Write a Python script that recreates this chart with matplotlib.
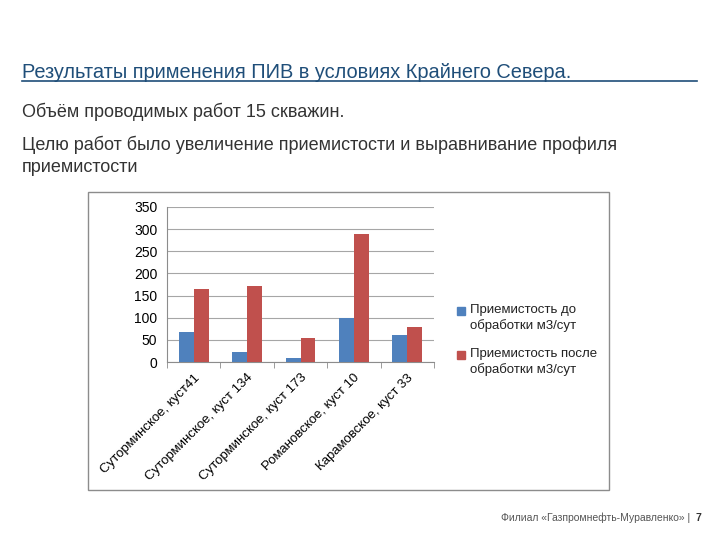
import matplotlib.pyplot as plt
import numpy as np
from matplotlib.patches import Rectangle
from matplotlib.lines import Line2D

categories = [
    "Суторминское, куст41",
    "Суторминское, куст 134",
    "Суторминское, куст 173",
    "Романовское, куст 10",
    "Карамовское, куст 33",
]
before = [68, 23, 8, 100, 60]
after = [165, 172, 54, 290, 80]
series_labels = ["Приемистость до\nобработки м3/сут", "Приемистость после\nобработки м3/сут"]
y_ticks = [0, 50, 100, 150, 200, 250, 300, 350]

BLUE = "#4F81BD"
RED = "#C0504D"
TITLE_COLOR = "#1F4E79"

plt.rcParams["font.family"] = ["Liberation Sans", "DejaVu Sans"]

fig = plt.figure(figsize=(7.2, 5.4), dpi=100)

# header texts
fig.text(22 / 720, 1 - 72 / 540, "Результаты применения ПИВ в условиях Крайнего Севера.",
         fontsize=14.4, color=TITLE_COLOR, va="center", ha="left")
fig.add_artist(Line2D([22 / 720, 697 / 720], [1 - 81 / 540, 1 - 81 / 540],
                      color=TITLE_COLOR, linewidth=1.2))
body = dict(fontsize=13, color="#333333", va="center", ha="left")
fig.text(22 / 720, 1 - 112 / 540, "Объём проводимых работ 15 скважин.", **body)
fig.text(22 / 720, 1 - 145 / 540,
         "Целю работ было увеличение приемистости и выравнивание профиля", **body)
fig.text(22 / 720, 1 - 167 / 540, "приемистости", **body)

# chart frame
fig.add_artist(Rectangle((88 / 720, 1 - 490 / 540), (609 - 88) / 720, 298 / 540,
                         transform=fig.transFigure, fill=False, edgecolor="#8c8c8c",
                         linewidth=1.0))

ax = fig.add_axes([167 / 720, 1 - 362 / 540, (434 - 167) / 720, (362 - 207) / 540])
x = np.arange(len(categories))
w = 0.28
ax.bar(x - w / 2, before, width=w, color=BLUE, zorder=3)
ax.bar(x + w / 2, after, width=w, color=RED, zorder=3)

ax.set_xlim(-0.5, len(categories) - 0.5)
ax.set_ylim(0, 350)
ax.set_yticks(y_ticks)
ax.set_yticklabels([str(v) for v in y_ticks], fontsize=10)
ax.yaxis.grid(True, color="#a6a6a6", linewidth=0.8, zorder=0)
ax.tick_params(axis="y", length=0, pad=7)

ax.set_xticks(x)
ax.set_xticklabels(categories, rotation=45, ha="right", rotation_mode="anchor", fontsize=9.5)
ax.tick_params(axis="x", length=0, pad=7)
ax.set_xticks(np.arange(-0.5, len(categories), 1), minor=True)
ax.tick_params(axis="x", which="minor", length=4, color="#8c8c8c", direction="out")

for s in ["top", "right"]:
    ax.spines[s].set_visible(False)
for s in ["left", "bottom"]:
    ax.spines[s].set_color("#8c8c8c")
    ax.spines[s].set_linewidth(0.8)

# legend (Excel style: marker aligned with first text line)
for i, (lab, col) in enumerate(zip(series_labels, [BLUE, RED])):
    y0 = 1 - (311 + i * 44) / 540
    fig.add_artist(Rectangle((457 / 720, y0 - 3.5 / 540), 8 / 720, 8 / 540,
                             transform=fig.transFigure, color=col))
    fig.text(470 / 720, y0 + 7 / 540, lab, fontsize=9.5, color="#222222",
             ha="left", va="top", linespacing=1.3)

# footer
fig.text(693 / 720, 1 - 518 / 540, "Филиал «Газпромнефть-Муравленко» | ",
         fontsize=7.5, color="#555555", ha="right", va="center")
fig.text(695 / 720, 1 - 518 / 540, "7", fontsize=7.5, color="#333333",
         fontweight="bold", ha="left", va="center")

fig.savefig("out.png", dpi=100)
